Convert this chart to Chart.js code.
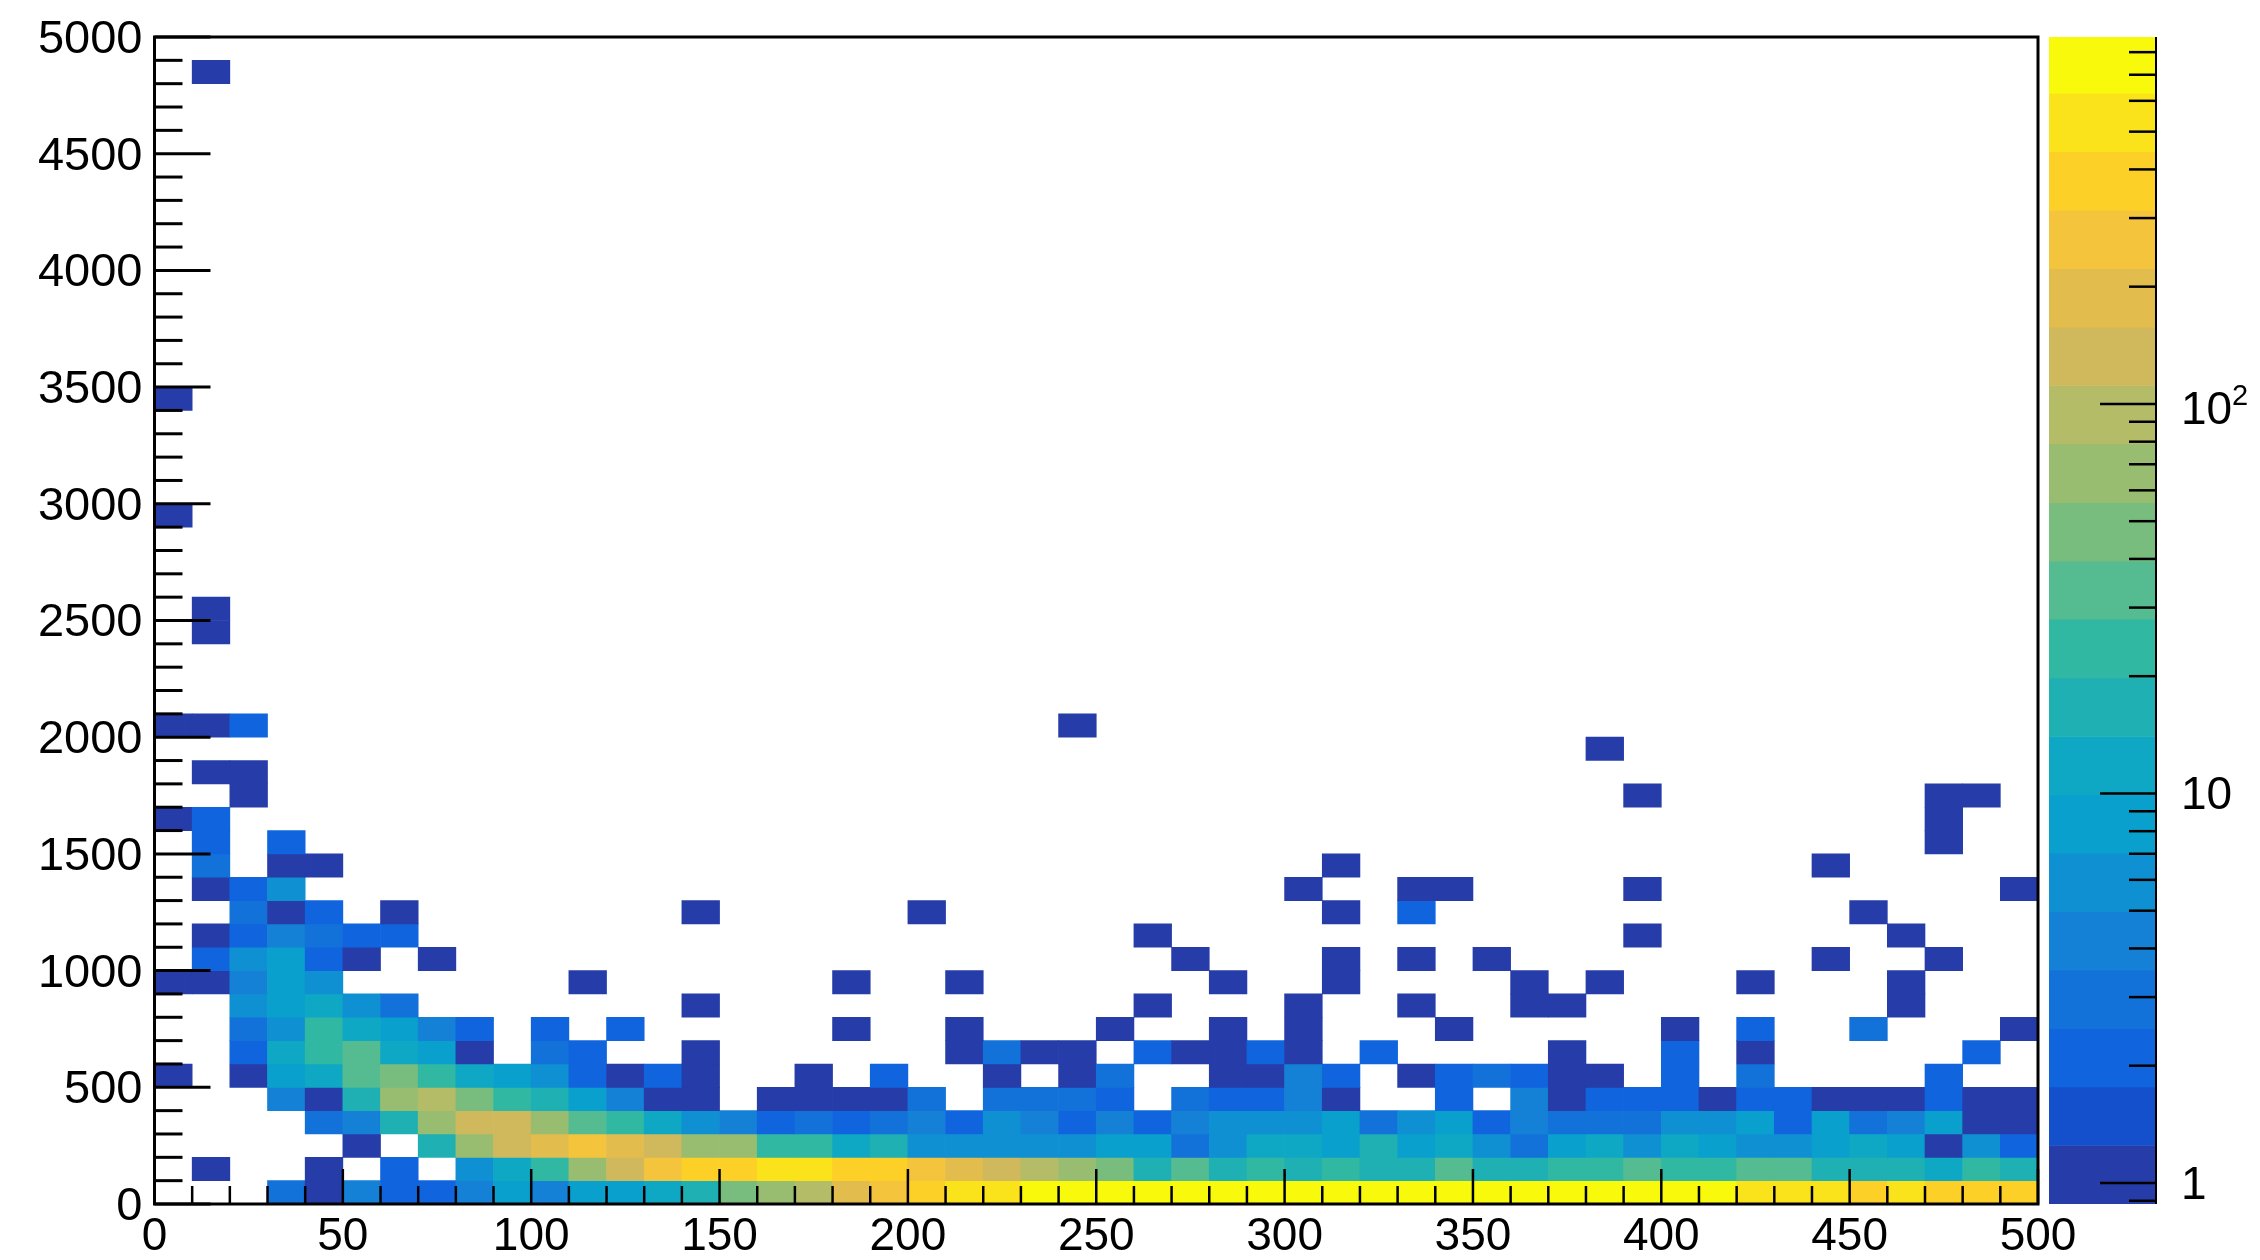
<!DOCTYPE html>
<html>
<head>
<meta charset="utf-8">
<title>2D histogram</title>
<script src="https://cdn.jsdelivr.net/npm/chart.js@4/dist/chart.umd.min.js"></script>
<style>
html,body{margin:0;padding:0;background:#fff;width:2260px;height:1260px;overflow:hidden}
canvas{position:absolute;top:0}
#main{left:0}
#bar{left:2040px}
</style>
</head>
<body>
<canvas id="main" width="2260" height="1260"></canvas>
<canvas id="bar" width="220" height="1260"></canvas>
<script>
// x bin centres (bins are 10 wide)
const xBins = [5,15,25,35,45,55,65,75,85,95,105,115,125,135,145,155,165,175,185,195,205,215,225,235,245,
  255,265,275,285,295,305,315,325,335,345,355,365,375,385,395,405,415,425,435,445,455,465,475,485,495];

// counts per y bin
const row0  = [0,0,0,3,1,4,2,2,4,8, 4,8,8,11,16,47,65,95,180,260, 370,520,520,690,720,760,710,780,800,740, 820,770,690,730,810,750,700,780,720,690, 740,660,520,480,540,400,445,380,350,370];
const row1  = [0,1,0,0,1,0,2,0,5,11, 23,65,130,260,370,370,520,520,380,350, 250,180,130,95,65,47,16,33,16,23, 16,23,16,16,33,18,18,23,23,33, 23,23,33,33,16,16,16,11,23,16];
const row2  = [0,0,0,0,0,1,0,16,65,130, 180,260,180,130,65,65,23,23,11,15, 5,5,5,5,5,8,8,3,5,11, 11,8,15,8,11,5,3,8,11,5, 11,8,5,5,8,11,8,1,5,2];
const row3  = [0,0,0,0,3,4,16,65,130,130, 65,33,23,11,5,4,2,3,2,3, 4,2,5,4,2,4,2,4,5,5, 5,8,3,5,8,2,4,3,3,3, 5,5,8,2,8,3,4,8,1,1];
const row4  = [0,0,0,4,1,16,65,95,47,23, 16,8,4,1,1,0,1,1,1,1, 3,0,3,3,3,2,0,3,2,2, 4,1,0,0,2,0,4,1,2,2, 2,1,2,2,1,1,1,2,1,1];
const row5  = [1,0,1,8,11,33,47,23,11,8, 5,2,1,2,1,0,0,1,0,2, 0,0,1,0,1,3,0,0,1,1, 4,2,0,1,2,3,2,1,1,0, 2,0,3,0,0,0,0,2,0,0];
const row6  = [0,0,2,11,23,33,10,8,1,0, 3,2,0,0,1,0,0,0,0,0, 0,1,3,1,1,0,2,1,1,2, 1,0,2,0,0,0,0,1,0,0, 2,0,1,0,0,0,0,0,2,0];
const row7  = [0,0,3,5,23,11,8,4,2,0, 2,0,2,0,0,0,0,0,1,0, 0,1,0,0,0,1,0,0,1,0, 1,0,0,0,1,0,0,0,0,0, 1,0,2,0,0,3,0,0,0,1];
const row8  = [0,0,5,8,11,5,3,0,0,0, 0,0,0,0,1,0,0,0,0,0, 0,0,0,0,0,0,1,0,0,0, 1,0,0,1,0,0,1,1,0,0, 0,0,0,0,0,0,1,0,0,0];
const row9  = [1,1,4,8,5,0,0,0,0,0, 0,1,0,0,0,0,0,0,1,0, 0,1,0,0,0,0,0,0,1,0, 0,1,0,0,0,0,1,0,1,0, 0,0,1,0,0,0,1,0,0,0];
const row10 = [0,2,5,8,2,1,0,1,0,0, 0,0,0,0,0,0,0,0,0,0, 0,0,0,0,0,0,0,1,0,0, 0,1,0,1,0,1,0,0,0,0, 0,0,0,0,1,0,0,1,0,0];
const row11 = [0,1,2,4,3,2,2,0,0,0, 0,0,0,0,0,0,0,0,0,0, 0,0,0,0,0,0,1,0,0,0, 0,0,0,0,0,0,0,0,0,1, 0,0,0,0,0,0,1,0,0,0];
const row12 = [0,0,3,1,2,0,1,0,0,0, 0,0,0,0,1,0,0,0,0,0, 1,0,0,0,0,0,0,0,0,0, 0,1,0,2,0,0,0,0,0,0, 0,0,0,0,0,1,0,0,0,0];
const row13 = [0,1,2,5,0,0,0,0,0,0, 0,0,0,0,0,0,0,0,0,0, 0,0,0,0,0,0,0,0,0,0, 1,0,0,1,1,0,0,0,0,1, 0,0,0,0,0,0,0,0,0,1];
const row14 = [0,3,0,1,1,0,0,0,0,0, 0,0,0,0,0,0,0,0,0,0, 0,0,0,0,0,0,0,0,0,0, 0,1,0,0,0,0,0,0,0,0, 0,0,0,0,1,0,0,0,0,0];
const row15 = [0,2,0,2,0,0,0,0,0,0, 0,0,0,0,0,0,0,0,0,0, 0,0,0,0,0,0,0,0,0,0, 0,0,0,0,0,0,0,0,0,0, 0,0,0,0,0,0,0,1,0,0];
const row16 = [1,2,0,0,0,0,0,0,0,0, 0,0,0,0,0,0,0,0,0,0, 0,0,0,0,0,0,0,0,0,0, 0,0,0,0,0,0,0,0,0,0, 0,0,0,0,0,0,0,1,0,0];
const row17 = [0,0,1,0,0,0,0,0,0,0, 0,0,0,0,0,0,0,0,0,0, 0,0,0,0,0,0,0,0,0,0, 0,0,0,0,0,0,0,0,0,1, 0,0,0,0,0,0,0,1,1,0];
const row18 = [0,1,1,0,0,0,0,0,0,0, 0,0,0,0,0,0,0,0,0,0, 0,0,0,0,0,0,0,0,0,0, 0,0,0,0,0,0,0,0,0,0, 0,0,0,0,0,0,0,0,0,0];
const row19 = [0,0,0,0,0,0,0,0,0,0, 0,0,0,0,0,0,0,0,0,0, 0,0,0,0,0,0,0,0,0,0, 0,0,0,0,0,0,0,0,1,0, 0,0,0,0,0,0,0,0,0,0];
const row20 = [1,1,2,0,0,0,0,0,0,0, 0,0,0,0,0,0,0,0,0,0, 0,0,0,0,1,0,0,0,0,0, 0,0,0,0,0,0,0,0,0,0, 0,0,0,0,0,0,0,0,0,0];
const row24 = [0,1,0,0,0,0,0,0,0,0, 0,0,0,0,0,0,0,0,0,0, 0,0,0,0,0,0,0,0,0,0, 0,0,0,0,0,0,0,0,0,0, 0,0,0,0,0,0,0,0,0,0];
const row25 = [0,1,0,0,0,0,0,0,0,0, 0,0,0,0,0,0,0,0,0,0, 0,0,0,0,0,0,0,0,0,0, 0,0,0,0,0,0,0,0,0,0, 0,0,0,0,0,0,0,0,0,0];
const row29 = [1,0,0,0,0,0,0,0,0,0, 0,0,0,0,0,0,0,0,0,0, 0,0,0,0,0,0,0,0,0,0, 0,0,0,0,0,0,0,0,0,0, 0,0,0,0,0,0,0,0,0,0];
const row34 = [1,0,0,0,0,0,0,0,0,0, 0,0,0,0,0,0,0,0,0,0, 0,0,0,0,0,0,0,0,0,0, 0,0,0,0,0,0,0,0,0,0, 0,0,0,0,0,0,0,0,0,0];
const row48 = [0,1,0,0,0,0,0,0,0,0, 0,0,0,0,0,0,0,0,0,0, 0,0,0,0,0,0,0,0,0,0, 0,0,0,0,0,0,0,0,0,0, 0,0,0,0,0,0,0,0,0,0];

const rowLow  = [0,100,200,300,400,500,600,700,800,900,1000,1100,1200,1300,1400,1500,1600,1700,1800,1900,2000,2400,2500,2900,3400,4800];
const rowList = [row0,row1,row2,row3,row4,row5,row6,row7,row8,row9,row10,row11,row12,row13,row14,row15,row16,row17,row18,row19,row20,row24,row25,row29,row34,row48];
const binHeight = 100;

// colour palette: 20 logarithmic contour levels
const levelEdges = [0.883,1.248,1.763,2.49,3.52,4.97,7.02,9.92,14.0,19.8,28.0,39.5,55.8,78.9,111.5,157.5,222.5,314,444,627,875];
const levelColors = ['#263ca8','#1450cc','#1065de','#1272da','#1480d6','#0f90d2','#09a0cd','#0ea8c4','#1eb0b2','#30b8a3',
  '#55bb90','#78bc7e','#99bd70','#b4bc68','#d0b85c','#e2bd4d','#f3c43c','#fdd028','#fbe31c','#f9f90b'];

// axis ticks
const xMajorTicks = [0,50,100,150,200,250,300,350,400,450,500];
const xMinorTicks = [10,20,30,40,60,70,80,90,110,120,130,140,160,170,180,190,210,220,230,240,260,270,280,290,310,320,330,340,360,370,380,390,410,420,430,440,460,470,480,490];
const yMajorTicks = [0,500,1000,1500,2000,2500,3000,3500,4000,4500,5000];
const yMinorTicks = [100,200,300,400,600,700,800,900,1100,1200,1300,1400,1600,1700,1800,1900,2100,2200,2300,2400,2600,2700,2800,2900,3100,3200,3300,3400,3600,3700,3800,3900,4100,4200,4300,4400,4600,4700,4800,4900];
const zMajorTicks = [1,10,100];
const zMinorTicks = [0.9,2,3,4,5,6,7,8,9,20,30,40,50,60,70,80,90,200,300,400,500,600,700,800];
const zTickLabels = {1:'1',10:'10'};

const colourOf = v => {
  for (let i = 0; i < levelColors.length; i++) if (v < levelEdges[i + 1]) return levelColors[i];
  return levelColors[levelColors.length - 1];
};

const cells = [];
rowList.forEach((row, r) => row.forEach((v, c) => {
  if (v > 0) cells.push({x: xBins[c], y: [rowLow[r], rowLow[r] + binHeight], v});
}));

Chart.defaults.font.family = '"Liberation Sans", Arial, sans-serif';
Chart.defaults.font.size = 46;
Chart.defaults.color = '#000';
Chart.defaults.animation = false;

const line = (ctx, x0, y0, x1, y1, w) => {
  ctx.lineWidth = w;
  ctx.beginPath(); ctx.moveTo(x0, y0); ctx.lineTo(x1, y1); ctx.stroke();
};

// lowers the labels of the value axis so their digits centre on the ticks
const labelNudge = {
  id: 'labelNudge',
  beforeDraw(chart) {
    chart.scales.y.getLabelItems().forEach(item => { item.options.translation[1] += 3; });
  }
};

const framePlugin = {
  id: 'frame',
  afterDatasetsDraw(chart) {
    const {ctx, chartArea: a, scales: {x, y}} = chart;
    ctx.save();
    ctx.strokeStyle = '#000';
    xMajorTicks.forEach(t => line(ctx, x.getPixelForValue(t), a.bottom, x.getPixelForValue(t), a.bottom - 35, 2.5));
    xMinorTicks.forEach(t => line(ctx, x.getPixelForValue(t), a.bottom, x.getPixelForValue(t), a.bottom - 18, 2.5));
    yMajorTicks.forEach(t => line(ctx, a.left, y.getPixelForValue(t), a.left + 56, y.getPixelForValue(t), 3));
    yMinorTicks.forEach(t => line(ctx, a.left, y.getPixelForValue(t), a.left + 28, y.getPixelForValue(t), 3));
    ctx.lineWidth = 3;
    ctx.strokeRect(a.left, a.top, a.right - a.left, a.bottom - a.top);
    ctx.restore();
  }
};

new Chart(document.getElementById('main'), {
  type: 'bar',
  data: {datasets: [{
    data: cells,
    backgroundColor: c => colourOf(c.raw ? c.raw.v : 1),
    borderWidth: 0,
    categoryPercentage: 1,
    barPercentage: 1
  }]},
  plugins: [framePlugin, labelNudge],
  options: {
    responsive: false,
    devicePixelRatio: 1,
    layout: {padding: {left: 0, right: 222, top: 37, bottom: 0}},
    plugins: {legend: {display: false}, tooltip: {enabled: false}, title: {display: false}},
    scales: {
      x: {
        type: 'linear', offset: false, min: 0, max: 500,
        grid: {display: false, drawTicks: false}, border: {display: false},
        afterBuildTicks: s => { s.ticks = xMajorTicks.map(value => ({value})); },
        afterFit: s => { s.height = 56; s.paddingLeft = 0; s.paddingRight = 0; },
        ticks: {maxRotation: 0, autoSkip: false, padding: 6, callback: v => String(v)}
      },
      y: {
        type: 'linear', min: 0, max: 5000,
        grid: {display: false, drawTicks: false}, border: {display: false},
        afterBuildTicks: s => { s.ticks = yMajorTicks.map(value => ({value})); },
        afterFit: s => { s.width = 154.5; s.paddingTop = 0; s.paddingBottom = 0; },
        ticks: {autoSkip: false, padding: 12, font: {size: 47}, callback: v => String(v)}
      }
    }
  }
});

const barPlugin = {
  id: 'barTicks',
  afterDatasetsDraw(chart) {
    const {ctx, chartArea: a, scales: {y}} = chart;
    ctx.save();
    ctx.strokeStyle = '#000';
    zMajorTicks.forEach(t => line(ctx, a.right - 56, y.getPixelForValue(t), a.right, y.getPixelForValue(t), 2.5));
    zMinorTicks.forEach(t => line(ctx, a.right - 27, y.getPixelForValue(t), a.right, y.getPixelForValue(t), 2.5));
    line(ctx, a.right, a.top, a.right, a.bottom, 2);
    // the 10^2 label: base and raised exponent
    const y100 = y.getPixelForValue(100);
    ctx.fillStyle = '#000';
    ctx.textAlign = 'left';
    ctx.textBaseline = 'alphabetic';
    ctx.font = '46px "Liberation Sans", Arial, sans-serif';
    ctx.fillText('10', a.right + 25, y100 + 20);
    ctx.font = '29px "Liberation Sans", Arial, sans-serif';
    ctx.fillText('2', a.right + 76, y100 + 1);
    ctx.restore();
  }
};

new Chart(document.getElementById('bar'), {
  type: 'bar',
  data: {
    labels: ['z'],
    datasets: [{
      data: levelColors.map((_, i) => ({x: 'z', y: [levelEdges[i], levelEdges[i + 1]]})),
      backgroundColor: levelColors,
      borderWidth: 0,
      categoryPercentage: 1,
      barPercentage: 1
    }]
  },
  plugins: [barPlugin, labelNudge],
  options: {
    responsive: false,
    devicePixelRatio: 1,
    layout: {padding: {left: 9, right: 0, top: 37, bottom: 56}},
    plugins: {legend: {display: false}, tooltip: {enabled: false}},
    scales: {
      x: {display: false},
      y: {
        type: 'logarithmic', position: 'right', min: 0.883, max: 875,
        grid: {display: false, drawTicks: false}, border: {display: false},
        afterBuildTicks: s => { s.ticks = zMajorTicks.map(value => ({value})); },
        afterFit: s => { s.width = 104; s.paddingTop = 0; s.paddingBottom = 0; },
        ticks: {autoSkip: false, padding: 25, callback: v => zTickLabels[v] || ''}
      }
    }
  }
});
</script>
</body>
</html>
